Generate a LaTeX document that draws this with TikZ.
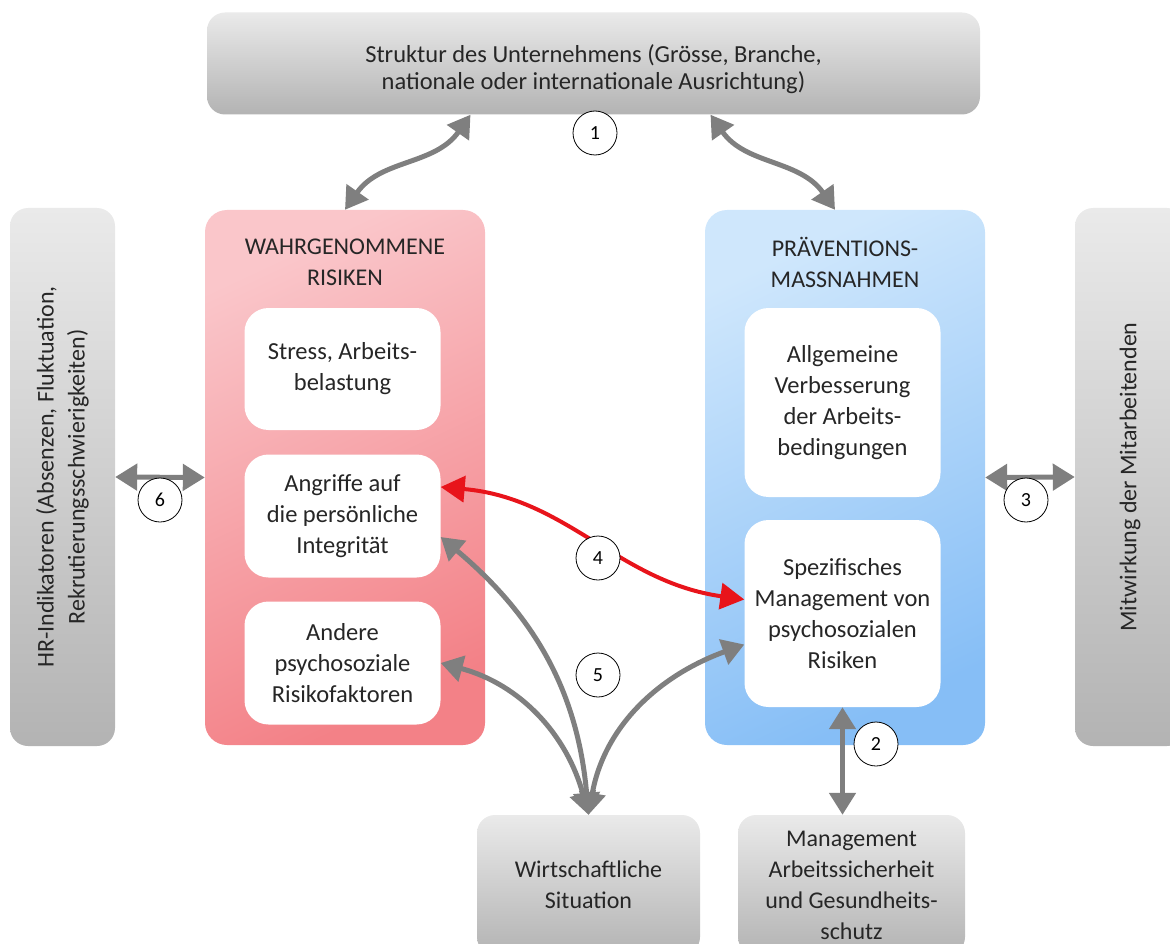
\documentclass[tikz,border=0pt]{standalone}
\usepackage{fontspec}
\setmainfont{Carlito}
\usetikzlibrary{arrows.meta}

\definecolor{graytop}{HTML}{EAEAEA}
\definecolor{graybot}{HTML}{B3B3B3}
\definecolor{risklight}{HTML}{FAC6CA}
\definecolor{riskdark}{HTML}{F38187}
\definecolor{prevlight}{HTML}{CFE7FC}
\definecolor{prevdark}{HTML}{86BEF6}
\definecolor{arrgray}{HTML}{7F7F7F}
\definecolor{arrred}{HTML}{E8141B}
\definecolor{txt}{HTML}{262626}

\tikzset{
  graybox/.style={rounded corners=18pt, top color=graytop, bottom color=graybot,
    align=center, inner sep=0pt, text=txt},
  panel/.style={rounded corners=22pt, inner sep=0pt},
  whitebox/.style={rounded corners=24pt, fill=white, minimum width=196pt,
    align=center, inner sep=0pt, text=txt, font=\fontsize{24.5}{31}\selectfont},
  numcirc/.style={circle, draw=black, line width=0.8pt, fill=white,
    minimum size=44pt, inner sep=0pt, font=\fontsize{20}{24}\selectfont},
  grayarr/.style={draw=arrgray, line width=5pt,
    {Triangle[length=22pt,width=26pt]}-{Triangle[length=22pt,width=26pt]}},
  redarr/.style={draw=arrred, line width=4pt,
    {Triangle[length=24pt,width=26pt]}-{Triangle[length=24pt,width=26pt]}},
}

\begin{document}
\begin{tikzpicture}[x=1pt, y=-1pt, font=\fontsize{24}{31}\selectfont]

  \useasboundingbox (0,0) rectangle (1170,944);
  \clip (0,0) rectangle (1170,944);

  % outer boxes
  \node[graybox, minimum width=773pt, minimum height=102pt] (top) at (593.5,63.5) {};
  \node[align=center, text=txt, font=\fontsize{24.5}{27}\selectfont] (toptext) at (593.5,69)
    {Struktur des Unternehmens (Grösse, Branche,\\nationale oder internationale Ausrichtung)};
  \node[graybox, rotate=90, minimum width=538pt, minimum height=105pt] (hr) at (62.5,477)
    {HR-Indikatoren (Absenzen, Fluktuation,\\Rekrutierungsschwierigkeiten)};
  \node[graybox, rotate=90, minimum width=538pt, minimum height=110pt] (mitw) at (1130,477)
    {Mitwirkung der Mitarbeitenden};
  \node[graybox, minimum width=223pt, minimum height=140pt] (wirt) at (588.5,885)
    {Wirtschaftliche\\Situation};
  \node[graybox, minimum width=227pt, minimum height=140pt] (man) at (851.5,885)
    {Management\\Arbeitssicherheit\\und Gesundheits-\\schutz};

  % panels
  \node[panel, minimum width=280pt, minimum height=535pt, top color=risklight,
    bottom color=riskdark, shading angle=25] (risk) at (345,477.5) {};
  \node[panel, minimum width=280pt, minimum height=535pt, top color=prevlight,
    bottom color=prevdark, shading angle=25] (prev) at (845,477.5) {};
  \node[align=center, text=txt] (risktitle) at (345,262) {WAHRGENOMMENE\\RISIKEN};
  \node[align=center, text=txt] (prevtitle) at (845,262) {PRÄVENTIONS-\\MASSNAHMEN};

  \node[whitebox, minimum height=122pt] (stress) at (342.5,369) {Stress, Arbeits-\\belastung};
  \node[whitebox, minimum height=123pt] (ang) at (342.5,516) {Angriffe auf\\die persönliche\\Integrität};
  \node[whitebox, minimum height=123pt] (andere) at (342.5,663) {Andere\\psychosoziale\\Risikofaktoren};
  \node[whitebox, minimum height=189pt] (allg) at (842.5,402.5) {Allgemeine\\Verbesserung\\der Arbeits-\\bedingungen};
  \node[whitebox, minimum height=187pt] (spez) at (842.5,613.5) {Spezifisches\\Management von\\psychosozialen\\Risiken};

  % connectors
  \path[grayarr] ([xshift=-123pt]top.south) to[out=-125,in=55] (risk.north);
  \path[grayarr] ([xshift=117pt]top.south) to[out=-55,in=125] ([xshift=-10pt]prev.north);
  \path[grayarr] (hr.south) -- (risk.west);
  \path[grayarr] (prev.east) -- (mitw.north);
  \path[grayarr] (wirt.north) to[out=95,in=-40] ([yshift=-21pt]ang.east);
  \path[grayarr] (wirt.north) to[out=105,in=-15] (andere.east);
  \path[grayarr] (wirt.north) to[out=80,in=200] ([yshift=-31pt]spez.west);
  \path[grayarr] (spez.south) -- (spez.south |- man.north);
  \path[redarr] ([yshift=29pt]ang.east) to[out=-5,in=172] ([yshift=14pt]spez.west);

  % numbers
  \node[numcirc] (n1) at (595,133) {1};
  \node[numcirc] (n2) at (876,744) {2};
  \node[numcirc] (n3) at (1026,500) {3};
  \node[numcirc] (n4) at (598,558) {4};
  \node[numcirc] (n5) at (598,675) {5};
  \node[numcirc] (n6) at (160,500) {6};

\end{tikzpicture}
\end{document}
